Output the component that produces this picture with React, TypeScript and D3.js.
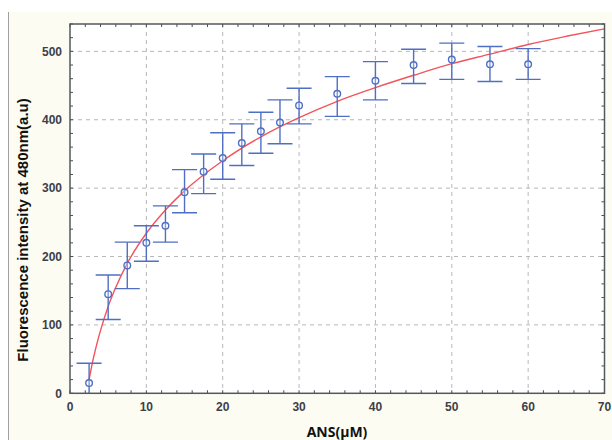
import React from "react";
import * as d3 from "d3";

const concentrations = [2.5, 5, 7.5, 10, 12.5, 15, 17.5, 20, 22.5, 25, 27.5, 30, 35, 40, 45, 50, 55, 60];
const intensity = [15, 145, 187, 220, 245, 294, 324, 344, 366, 383, 396, 421, 438, 457, 480, 488, 481, 481];
const upperBound = [44, 173, 221, 245, 274, 327, 350, 381, 394, 411, 429, 446, 463, 485, 503, 512, 507, 504];
const lowerBound = [-14, 108, 153, 193, 221, 264, 292, 313, 333, 351, 365, 394, 405, 429, 453, 459, 456, 459];

const fitX = [2.5, 3, 4, 5, 6, 7.5, 10, 12.5, 15, 20, 25, 30, 35, 40, 45, 50, 55, 60, 65, 70];
const fitY = [20, 48, 92, 127, 155, 190, 234, 268, 296, 340, 375, 403, 427, 447, 465, 482, 496, 510, 522, 533];

const xTicks = [0, 10, 20, 30, 40, 50, 60, 70];
const yTicks = [0, 100, 200, 300, 400, 500];

const W = 612, H = 440;
const L = 70, R = 604.5, T = 24, B = 393.3;

export default function App() {
  const x = d3.scaleLinear().domain([0, 70]).range([L, R]);
  const y = d3.scaleLinear().domain([0, 540]).range([B, T]);
  const minorX = d3.range(0, 70.001, 2);
  const minorY = d3.range(0, 540.001, 20);
  const line = d3.line<number>().x((_, i) => x(fitX[i])).y((v) => y(v)).curve(d3.curveMonotoneX);
  const blue = "#4f6fc4";
  const capHalf = 12.5;
  return (
    <svg width={W} height={H} style={{ position: "absolute", left: 0, top: 0 }}>
      <rect x={0} y={0} width={W} height={H} fill="#ffffff" />
      <rect x={8} y={12} width={W - 8} height={H - 12} fill="#fdfcf3" />
      <line x1={8.5} y1={12} x2={8.5} y2={H} stroke="#a0a0a0" strokeWidth={1} />
      <defs>
        <clipPath id="plot">
          <rect x={L} y={T} width={R - L} height={B - T} />
        </clipPath>
      </defs>
      <rect x={L} y={T} width={R - L} height={B - T} fill="#ffffff" />
      {xTicks.slice(1, -1).map((t) => (
        <line key={"gx" + t} x1={x(t)} x2={x(t)} y1={T} y2={B} stroke="#b8b8b8" strokeDasharray="4,4" strokeWidth={1} />
      ))}
      {yTicks.slice(1).map((t) => (
        <line key={"gy" + t} x1={L} x2={R} y1={y(t)} y2={y(t)} stroke="#b8b8b8" strokeDasharray="4,4" strokeWidth={1} />
      ))}
      <g clipPath="url(#plot)">
        <path d={line(fitY) || ""} fill="none" stroke="#f2545b" strokeWidth={1.4} />
        {concentrations.map((c, i) => (
          <g key={"e" + i} stroke={blue} strokeWidth={1.4} fill="none">
            <line x1={x(c)} x2={x(c)} y1={y(upperBound[i])} y2={y(lowerBound[i])} />
            <line x1={x(c) - capHalf} x2={x(c) + capHalf} y1={y(upperBound[i])} y2={y(upperBound[i])} />
            <line x1={x(c) - capHalf} x2={x(c) + capHalf} y1={y(lowerBound[i])} y2={y(lowerBound[i])} />
            <circle cx={x(c)} cy={y(intensity[i])} r={3.3} fill="#ffffff" fillOpacity={0.3} />
          </g>
        ))}
      </g>
      {minorX.map((t) => (
        <g key={"mx" + t} stroke="#4a4a4a" strokeWidth={1}>
          <line x1={x(t)} x2={x(t)} y1={B} y2={B - 3} />
          <line x1={x(t)} x2={x(t)} y1={T} y2={T + 3} />
        </g>
      ))}
      {minorY.map((t) => (
        <g key={"my" + t} stroke="#4a4a4a" strokeWidth={1}>
          <line x1={L} x2={L + 3} y1={y(t)} y2={y(t)} />
          <line x1={R} x2={R - 3} y1={y(t)} y2={y(t)} />
        </g>
      ))}
      <rect x={L} y={T} width={R - L} height={B - T} fill="none" stroke="#505860" strokeWidth={1.5} />
      {xTicks.map((t) => (
        <text key={"xl" + t} x={x(t)} y={411} textAnchor="middle" fontFamily="Liberation Sans, Arial, sans-serif" fontSize={12} fontWeight="bold" fill="#3c4048">
          {t}
        </text>
      ))}
      {yTicks.map((t) => (
        <text key={"yl" + t} x={62} y={y(t) + 4.3} textAnchor="end" fontFamily="Liberation Sans, Arial, sans-serif" fontSize={12} fontWeight="bold" fill="#3c4048">
          {t}
        </text>
      ))}
      <text x={337} y={437} textAnchor="middle" fontFamily="Open Sans, sans-serif" fontSize={14} fontWeight="bold" fill="#111">
        ANS(μM)
      </text>
      <text transform={`translate(28,230) rotate(-90)`} textAnchor="middle" fontFamily="Liberation Sans, Arial, sans-serif" fontSize={15} fontWeight="bold" fill="#111">
        Fluorescence intensity at 480nm(a.u)
      </text>
    </svg>
  );
}
